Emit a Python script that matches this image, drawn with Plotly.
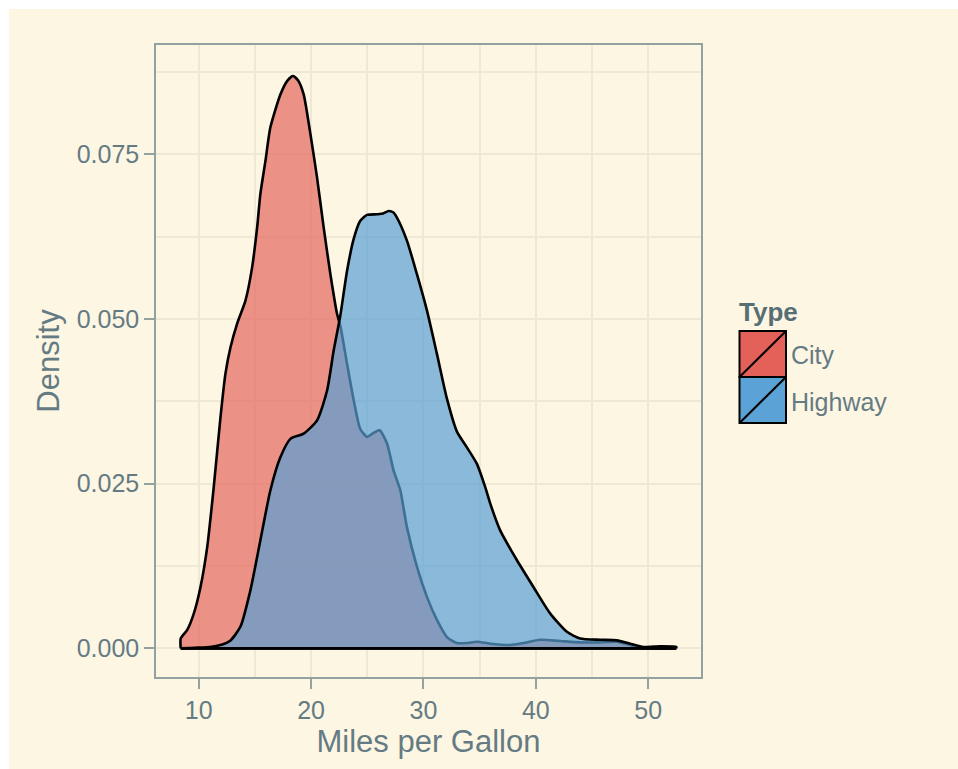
import plotly.graph_objects as go

# ---- data ----
city_mpg = [8.4, 8.98, 9.57, 10.16, 10.76, 11.34, 11.94, 12.38, 12.83, 13.42, 14.16, 14.75,
            15.2, 15.49, 15.94, 16.38, 17.27, 17.9, 18.4, 18.85, 19.34, 19.94, 20.53, 21.12,
            21.72, 22.31, 22.6, 23.2, 23.8, 24.38, 24.98, 25.56, 26.1, 26.76, 27.34, 27.94,
            28.53, 29.42, 30.31, 31.2, 32.09, 32.98, 33.87, 34.76, 35.94, 37.72, 38.9, 40.38,
            42.16, 43.94, 45.72, 47.2, 48.38, 49.27, 50.5, 52.5]
city_density = [0.0015, 0.0028, 0.0053, 0.0093, 0.0154, 0.0245, 0.0351, 0.0417, 0.0457, 0.0493,
                0.0528, 0.0578, 0.0639, 0.0690, 0.0740, 0.0791, 0.0841, 0.0862, 0.0869, 0.0862,
                0.0841, 0.0781, 0.0715, 0.0639, 0.0568, 0.0508, 0.0490, 0.0432, 0.0376, 0.0333,
                0.0321, 0.0327, 0.0331, 0.0311, 0.0270, 0.0240, 0.0184, 0.0124, 0.0078, 0.0043,
                0.0017, 0.0008, 0.0008, 0.0010, 0.0007, 0.0005, 0.0008, 0.0013, 0.0011, 0.0009,
                0.0009, 0.0010, 0.0005, 0.0001, 0.0000, 0.0000]

hwy_mpg = [8.4, 10.0, 11.0, 11.94, 12.83, 13.72, 14.6, 15.49, 16.38, 17.27, 18.16, 19.34,
           20.53, 21.42, 22.01, 22.6, 23.2, 23.8, 24.38, 24.98, 25.87, 26.4, 26.9, 27.3,
           27.64, 28.53, 29.42, 30.31, 31.2, 32.09, 32.98, 33.87, 34.76, 35.49, 35.94, 36.83,
           38.31, 39.79, 41.27, 42.76, 43.94, 45.72, 47.2, 48.38, 49.57, 51.05, 52.5]
hwy_density = [0.0000, 0.0001, 0.0002, 0.0005, 0.0012, 0.0033, 0.0088, 0.0164, 0.0240, 0.0290,
               0.0318, 0.0326, 0.0346, 0.0391, 0.0452, 0.0505, 0.0573, 0.0622, 0.0649, 0.0658,
               0.0659, 0.0660, 0.0664, 0.0662, 0.0654, 0.0619, 0.0568, 0.0513, 0.0447, 0.0379,
               0.0329, 0.0305, 0.0280, 0.0245, 0.0220, 0.0179, 0.0134, 0.0093, 0.0053, 0.0025,
               0.0015, 0.0013, 0.0012, 0.0007, 0.0002, 0.0003, 0.0002]

series_names = ["City", "Highway"]
x_ticks = [10, 20, 30, 40, 50]
y_ticks = [0.000, 0.025, 0.050, 0.075]
y_tick_labels = ["0.000", "0.025", "0.050", "0.075"]

# ---- style ----
BG = "#FDF6E3"
GRID = "#EEE8D5"
AXIS = "#93A1A1"
TEXT = "#657B83"
FONT = "Liberation Sans, Arial, sans-serif"
solid = {"City": "rgb(227,97,89)", "Highway": "rgb(91,163,214)"}
fills = {"City": "rgba(227,97,89,0.68)", "Highway": "rgba(88,160,212,0.7)"}

W, H = 958, 769
L, R, T, B = 156, 701, 45, 677


def px(xp):
    return (xp - L) / (R - L)


def py(yp):
    return (B - yp) / (B - T)


fig = go.Figure()
for name, xs, ys in [("City", city_mpg, city_density), ("Highway", hwy_mpg, hwy_density)]:
    xx = [xs[0]] + list(xs) + [xs[-1]]
    yy = [0.0] + list(ys) + [0.0]
    fig.add_trace(go.Scatter(
        x=xx, y=yy, mode="lines", name=name, showlegend=False,
        fill="tozeroy", fillcolor=fills[name],
        line=dict(color="black", width=2.6, shape="spline", smoothing=0.6),
        hoverinfo="skip"))
    fig.add_trace(go.Scatter(
        x=[xs[0], xs[-1]], y=[0, 0], mode="lines", showlegend=False,
        line=dict(color="black", width=2.8), hoverinfo="skip"))

shapes = []
# white page strip on the top and left
shapes.append(dict(type="rect", xref="paper", yref="paper", x0=px(0), x1=px(W), y0=py(9), y1=py(0),
                   fillcolor="white", line=dict(width=0), layer="below"))
shapes.append(dict(type="rect", xref="paper", yref="paper", x0=px(0), x1=px(9), y0=py(H), y1=py(0),
                   fillcolor="white", line=dict(width=0), layer="below"))

# manual legend keys (ggplot style with diagonal)
kx0, kx1 = 739.5, 786
key_rows = [(331, 377), (377, 423)]
annotations = []
for name, (ky0, ky1) in zip(series_names, key_rows):
    shapes.append(dict(type="rect", xref="paper", yref="paper",
                       x0=px(kx0), x1=px(kx1), y0=py(ky1), y1=py(ky0),
                       fillcolor=solid[name], line=dict(color="black", width=2)))
    shapes.append(dict(type="line", xref="paper", yref="paper",
                       x0=px(kx0), x1=px(kx1), y0=py(ky1), y1=py(ky0),
                       line=dict(color="black", width=2)))
    annotations.append(dict(xref="paper", yref="paper", x=px(789), y=py((ky0 + ky1) / 2 + 1.5),
                            xanchor="left", yanchor="middle", showarrow=False, text=name,
                            font=dict(family=FONT, size=25, color=TEXT)))
annotations.append(dict(xref="paper", yref="paper", x=px(737), y=py(312), xanchor="left",
                        yanchor="middle", showarrow=False, text="<b>Type</b>",
                        font=dict(family=FONT, size=26, color="#586E75")))

fig.update_layout(
    width=W, height=H,
    margin=dict(l=L, r=W - R, t=T, b=H - B, pad=0),
    paper_bgcolor=BG, plot_bgcolor=BG,
    font=dict(family=FONT, color=TEXT),
    shapes=shapes, annotations=annotations,
    showlegend=False,
)
fig.update_xaxes(
    range=[6.2, 54.7], tickvals=x_ticks, ticktext=[str(v) for v in x_ticks],
    showgrid=True, gridcolor=GRID, gridwidth=2,
    minor=dict(dtick=5, tick0=5, showgrid=True, gridcolor=GRID, gridwidth=1.6, ticklen=0),
    zeroline=False, showline=True, mirror=True, linecolor=AXIS, linewidth=1.5,
    ticks="outside", ticklen=10, tickwidth=2, tickcolor=AXIS,
    tickfont=dict(family=FONT, size=25, color=TEXT),
    title=dict(text="Miles per Gallon", font=dict(family=FONT, size=31, color=TEXT), standoff=6),
)
fig.update_yaxes(
    range=[-0.00436, 0.0916], tickvals=y_ticks, ticktext=y_tick_labels,
    showgrid=True, gridcolor=GRID, gridwidth=2,
    minor=dict(dtick=0.0125, tick0=0.0125, showgrid=True, gridcolor=GRID, gridwidth=1.6, ticklen=0),
    zeroline=False, showline=True, mirror=True, linecolor=AXIS, linewidth=1.5,
    ticks="outside", ticklen=10, tickwidth=2, tickcolor=AXIS,
    tickfont=dict(family=FONT, size=25, color=TEXT),
    title=dict(text="Density", font=dict(family=FONT, size=31, color=TEXT), standoff=8),
)

fig.write_html(
    "out.html",
    config={"displayModeBar": False},
    post_script="document.body.style.margin='0';document.body.style.overflow='hidden';",
)
